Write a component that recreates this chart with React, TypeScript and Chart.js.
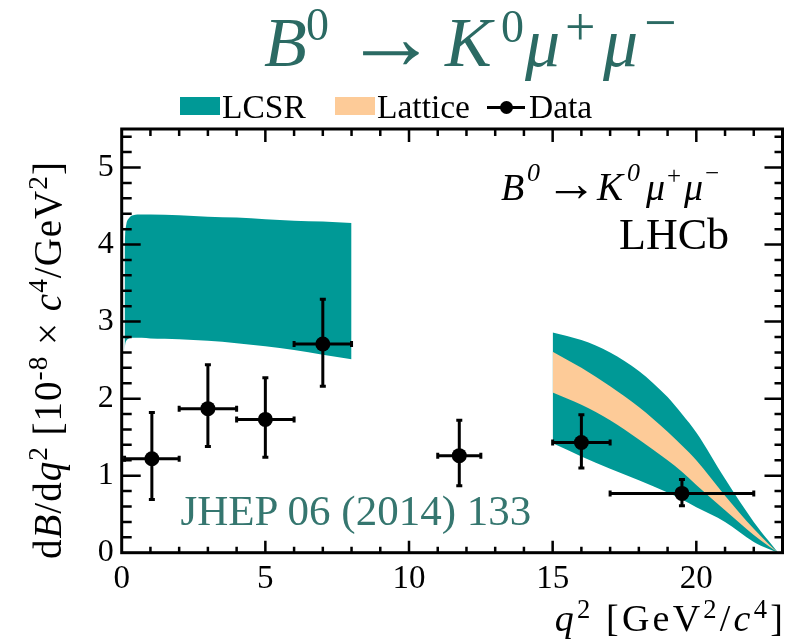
import React, { useEffect, useRef } from 'react';
import { Chart, registerables } from 'chart.js';
Chart.register(...registerables);

const FONT = '"Liberation Serif", "Times New Roman", serif';
const TEAL = 'rgb(0,153,150)';
const PEACH = 'rgb(253,203,152)';
const TITLE_C = '#2b6a63';
const JHEP_C = '#35766f';

const X_MAX = 23;
const Y_MAX = 5.5;
const xTickValues = [0, 5, 10, 15, 20];
const yTickValues = [0, 1, 2, 3, 4, 5];

// LCSR prediction, low q2
const lowQ = [0.1, 0.12, 0.16, 0.25, 0.4, 0.7, 1, 2, 3, 4, 5, 6, 7, 8];
const lowLcsrUpper = [3.95, 4.13, 4.26, 4.34, 4.38, 4.39, 4.39, 4.38, 4.36, 4.35, 4.33, 4.31, 4.3, 4.28];
const lowLcsrLower = [2.62, 2.7, 2.75, 2.78, 2.79, 2.79, 2.78, 2.77, 2.75, 2.72, 2.68, 2.63, 2.57, 2.51];

// high q2 predictions
const highQ = [15, 16, 17, 18, 19, 19.5, 20, 21, 22, 22.5, 22.85];
const highLcsrUpper = [2.86, 2.76, 2.6, 2.36, 2.02, 1.8, 1.56, 0.96, 0.4, 0.16, 0];
const highLcsrLower = [1.42, 1.25, 1.09, 0.94, 0.78, 0.69, 0.59, 0.4, 0.14, 0.05, 0];
const latticeUpper = [2.61, 2.4, 2.16, 1.89, 1.57, 1.39, 1.2, 0.74, 0.31, 0.12, 0];
const latticeLower = [2.08, 1.92, 1.72, 1.47, 1.2, 1.05, 0.88, 0.55, 0.23, 0.09, 0];

// LHCb data
const dataQ = [1.05, 3, 5, 7, 11.75, 16, 19.5];
const dataQLow = [0.1, 2, 4, 6, 11, 15, 17];
const dataQHigh = [2, 4, 6, 8, 12.5, 17, 22];
const dataY = [1.22, 1.87, 1.73, 2.71, 1.26, 1.43, 0.77];
const dataYLow = [0.69, 1.38, 1.24, 2.16, 0.87, 1.1, 0.61];
const dataYHigh = [1.82, 2.44, 2.27, 3.29, 1.72, 1.79, 0.95];

const pts = (xs: number[], ys: number[]) => xs.map((x, i) => ({ x, y: ys[i] }));

const errorBarPlugin = {
  id: 'errorbars',
  afterDatasetsDraw(chart: any) {
    const { ctx, scales } = chart;
    const xs = scales.x;
    const ys = scales.y;
    ctx.save();
    ctx.strokeStyle = '#000';
    ctx.lineWidth = 3;
    ctx.lineCap = 'butt';
    const cap = 3;
    dataQ.forEach((q, i) => {
      const px = xs.getPixelForValue(q);
      const py = ys.getPixelForValue(dataY[i]);
      const x0 = xs.getPixelForValue(dataQLow[i]);
      const x1 = xs.getPixelForValue(dataQHigh[i]);
      const y0 = ys.getPixelForValue(dataYLow[i]);
      const y1 = ys.getPixelForValue(dataYHigh[i]);
      ctx.beginPath();
      ctx.moveTo(x0, py); ctx.lineTo(x1, py);
      ctx.moveTo(px, y0); ctx.lineTo(px, y1);
      ctx.moveTo(x0, py - cap); ctx.lineTo(x0, py + cap);
      ctx.moveTo(x1, py - cap); ctx.lineTo(x1, py + cap);
      ctx.moveTo(px - cap, y0); ctx.lineTo(px + cap, y0);
      ctx.moveTo(px - cap, y1); ctx.lineTo(px + cap, y1);
      ctx.stroke();
    });
    ctx.restore();
  },
};

const framePlugin = {
  id: 'frame',
  afterDraw(chart: any) {
    const { ctx, chartArea, scales } = chart;
    const { left, right, top, bottom } = chartArea;
    const xs = scales.x;
    const ys = scales.y;
    ctx.save();
    ctx.strokeStyle = '#000';
    ctx.lineWidth = 2.5;
    ctx.beginPath();
    for (let v = 1; v < X_MAX; v++) {
      const px = xs.getPixelForValue(v);
      const major = v % 5 === 0;
      ctx.moveTo(px, bottom); ctx.lineTo(px, bottom - (major ? 12 : 6));
      ctx.moveTo(px, top); ctx.lineTo(px, top + (major ? 13 : 7));
    }
    for (let k = 1; k <= 27; k++) {
      const py = ys.getPixelForValue(k / 5);
      const major = k % 5 === 0;
      ctx.moveTo(left, py); ctx.lineTo(left + (major ? 19 : 10), py);
      ctx.moveTo(right, py); ctx.lineTo(right - (major ? 18 : 8), py);
    }
    ctx.stroke();
    ctx.lineWidth = 3;
    ctx.strokeRect(left, top, right - left, bottom - top);
    ctx.restore();
  },
};

const T = ({ x, b, s, it = false, c = '#000', children }: any) => (
  <span
    style={{
      position: 'absolute',
      left: x,
      top: b - 0.8375 * s,
      fontSize: s,
      lineHeight: 1,
      fontStyle: it ? 'italic' : 'normal',
      color: c,
      whiteSpace: 'pre',
      fontFamily: FONT,
    }}
  >
    {children}
  </span>
);

const supStyle: any = { fontSize: '0.7em', verticalAlign: '0.5em', lineHeight: 0 };

export default function App() {
  const ref = useRef<HTMLCanvasElement>(null);
  useEffect(() => {
    const band = (data: any, color: string, fill: any, order: number) => ({
      data,
      borderWidth: 0,
      borderColor: color,
      backgroundColor: color,
      pointRadius: 0,
      fill,
      order,
      cubicInterpolationMode: 'monotone',
    });
    const chart = new Chart(ref.current as HTMLCanvasElement, {
      type: 'line',
      data: {
        datasets: [
          band(pts(lowQ, lowLcsrUpper), TEAL, '+1', 10),
          band(pts(lowQ, lowLcsrLower), TEAL, false, 10),
          band(pts(highQ, highLcsrUpper), TEAL, 3, 10),
          band(pts(highQ, highLcsrLower), TEAL, false, 10),
          band(pts(highQ, latticeUpper), PEACH, 5, 5),
          band(pts(highQ, latticeLower), PEACH, false, 5),
          {
            data: pts(dataQ, dataY),
            showLine: false,
            pointRadius: 7.5,
            pointBackgroundColor: '#000',
            pointBorderWidth: 0,
            borderColor: '#000',
            order: 1,
          } as any,
        ],
      },
      options: {
        animation: false,
        responsive: false,
        events: [],
        layout: { padding: { top: 129, right: 6.7, left: 0, bottom: 0 } },
        plugins: { legend: { display: false }, tooltip: { enabled: false }, title: { display: false } },
        scales: {
          x: {
            type: 'linear',
            min: 0,
            max: X_MAX,
            grid: { display: false, drawTicks: false },
            border: { display: false },
            afterFit: (s: any) => { s.height = 90.3; },
            afterBuildTicks: (s: any) => { s.ticks = xTickValues.map((v) => ({ value: v })); },
            ticks: { font: { family: FONT, size: 33 }, color: '#000', padding: 7, maxRotation: 0, autoSkip: false },
          },
          y: {
            type: 'linear',
            min: 0,
            max: Y_MAX,
            grid: { display: false, drawTicks: false },
            border: { display: false },
            afterFit: (s: any) => { s.width = 121.7; },
            afterBuildTicks: (s: any) => { s.ticks = yTickValues.map((v) => ({ value: v })); },
            ticks: { font: { family: FONT, size: 32 }, color: '#000', padding: 8 },
          },
        },
      } as any,
      plugins: [errorBarPlugin, framePlugin],
    });
    return () => chart.destroy();
  }, []);

  return (
    <div style={{ position: 'fixed', left: 0, top: 0, width: 790, height: 643, background: '#fff', overflow: 'hidden', fontFamily: FONT }}>
      <canvas ref={ref} width={790} height={643} style={{ position: 'absolute', left: 0, top: 0 }} />

      {/* Title */}
      <div>
        <T x={264} b={66.7} s={70} it c={TITLE_C}>B</T>
        <T x={306} b={41} s={46} c={TITLE_C}>0</T>
        <T x={344} b={69} s={94} c={TITLE_C}>→</T>
        <T x={445} b={66.7} s={70} it c={TITLE_C}>K</T>
        <T x={501} b={42.5} s={46} c={TITLE_C}>0</T>
        <T x={525} b={66.7} s={70} it c={TITLE_C}>μ</T>
        <T x={565} b={45.5} s={54} c={TITLE_C}>+</T>
        <T x={603} b={66.7} s={70} it c={TITLE_C}>μ</T>
        <T x={644} b={43} s={58} c={TITLE_C}>−</T>
      </div>

      {/* Legend */}
      <div style={{ position: 'absolute', left: 180, top: 97, width: 40, height: 17.5, background: TEAL }} />
      <T x={222} b={117.7} s={33.5}>LCSR</T>
      <div style={{ position: 'absolute', left: 335, top: 97, width: 40, height: 17.5, background: PEACH }} />
      <T x={377} b={117.7} s={33.5}>Lattice</T>
      <div style={{ position: 'absolute', left: 487, top: 105.5, width: 38, height: 3, background: '#000' }} />
      <div style={{ position: 'absolute', left: 499.5, top: 100.5, width: 13, height: 13, borderRadius: '50%', background: '#000' }} />
      <T x={529} b={117.7} s={33.5}>Data</T>

      {/* Annotation in plot */}
      <div>
        <T x={501} b={200} s={38} it>B</T>
        <T x={527} b={182} s={26} it>0</T>
        <T x={545} b={201.8} s={52}>→</T>
        <T x={597} b={200} s={39} it>K</T>
        <T x={627} b={182} s={26} it>0</T>
        <T x={646} b={200} s={38} it>μ</T>
        <T x={667} b={184} s={25}>+</T>
        <T x={684} b={200} s={38} it>μ</T>
        <T x={705} b={181} s={25}>−</T>
      </div>
      <T x={619} b={250} s={44}>LHCb</T>

      <T x={180.5} b={525} s={43} c={JHEP_C}>JHEP 06 (2014) 133</T>

      {/* X axis title */}
      <div style={{ position: 'absolute', right: 4, top: 631 - 0.8375 * 38, fontSize: 38, lineHeight: 1, whiteSpace: 'nowrap', letterSpacing: 3.2 }}>
        <i>q</i><span style={supStyle}>2</span> [GeV<span style={supStyle}>2</span>/<i>c</i><span style={supStyle}>4</span>]
      </div>

      {/* Y axis title */}
      <div style={{ position: 'absolute', left: 28, top: 559, fontSize: 39, lineHeight: 1, whiteSpace: 'nowrap', transformOrigin: '0 0', transform: 'rotate(-90deg)', letterSpacing: 1 }}>
        d<i>B</i>/d<i>q</i><span style={supStyle}>2</span> [10<span style={supStyle}>-8</span> × <i>c</i><span style={supStyle}>4</span>/GeV<span style={supStyle}>2</span>]
      </div>
    </div>
  );
}
